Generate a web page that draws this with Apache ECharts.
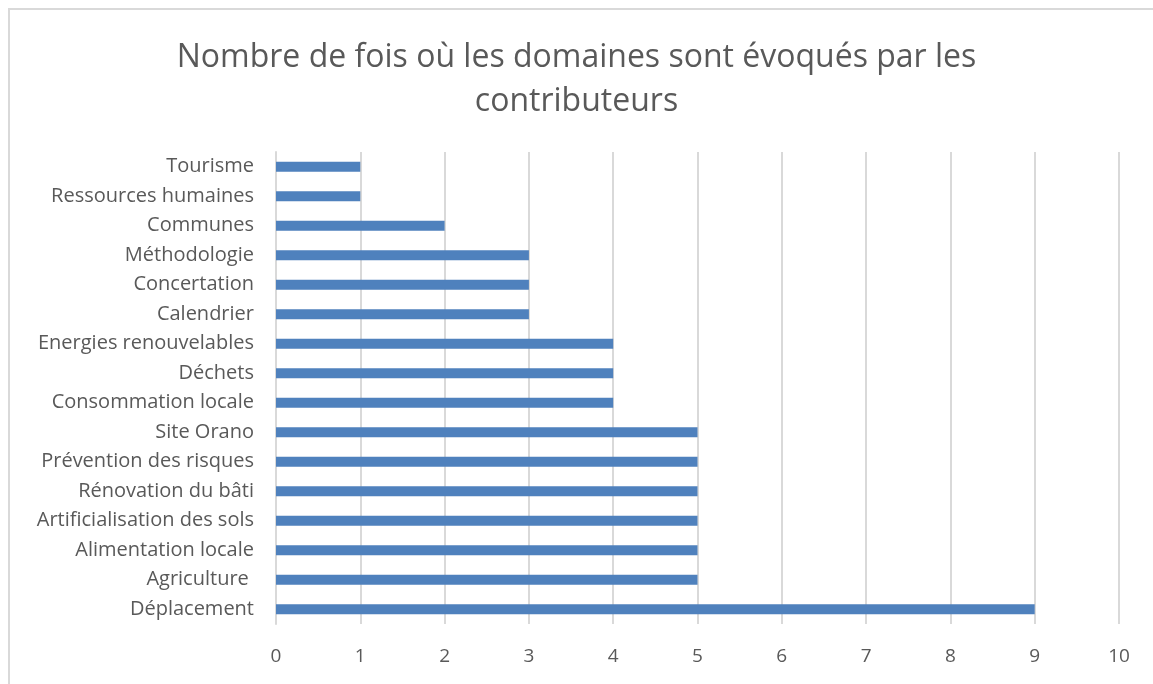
<!DOCTYPE html>
<html>
<head>
<meta charset="utf-8">
<script src="https://cdn.jsdelivr.net/npm/echarts@6/dist/echarts.min.js"></script>
<style>
  html, body { margin: 0; padding: 0; background: #fff; }
  #frame { position: absolute; left: 8px; top: 8px; width: 1160px; height: 700px; border: 2px solid #d9d9d9; box-sizing: border-box; }
  #chart { position: absolute; left: 0; top: 0; width: 1153px; height: 684px; }
</style>
</head>
<body>
<div id="frame"></div>
<div id="chart"></div>
<script>
  // données, de bas en haut
  const categories = ['Déplacement', 'Agriculture ', 'Alimentation locale', 'Artificialisation des sols',
    'Rénovation du bâti', 'Prévention des risques', 'Site Orano', 'Consommation locale', 'Déchets',
    'Energies renouvelables', 'Calendrier', 'Concertation', 'Méthodologie', 'Communes',
    'Ressources humaines', 'Tourisme'];
  const values = [9, 5, 5, 5, 5, 5, 5, 4, 4, 4, 3, 3, 3, 2, 1, 1];
  const titleText = 'Nombre de fois où les domaines sont évoqués par les\ncontributeurs';

  const chart = echarts.init(document.getElementById('chart'));
  const font = '"Open Sans", sans-serif';

  chart.setOption({
    animation: false,
    title: {
      text: titleText,
      left: 'center',
      top: 31,
      textStyle: { fontFamily: font, fontSize: 32, fontWeight: 'normal', color: '#595959', lineHeight: 44 }
    },
    grid: { left: 276, right: 34, top: 152, bottom: 60 },
    xAxis: {
      type: 'value',
      min: 0,
      max: 10,
      interval: 1,
      axisLine: { show: false },
      axisTick: { show: false },
      splitLine: { show: true, lineStyle: { color: '#d9d9d9', width: 2 } },
      axisLabel: { margin: 23, fontFamily: font, fontSize: 19, color: '#595959' }
    },
    yAxis: {
      type: 'category',
      data: categories,
      axisLine: { show: true, lineStyle: { color: '#d9d9d9', width: 2 } },
      axisTick: { show: false },
      axisLabel: { margin: 22, fontFamily: font, fontSize: 20, color: '#595959' }
    },
    series: [{
      type: 'bar',
      data: values,
      barWidth: 10,
      itemStyle: { color: '#4f81bd' }
    }]
  });
</script>
</body>
</html>
